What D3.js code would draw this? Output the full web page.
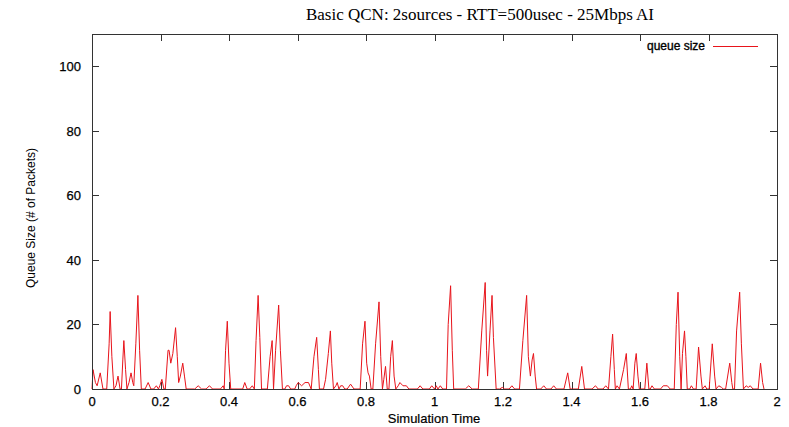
<!DOCTYPE html>
<html><head><meta charset="utf-8">
<script src="https://cdn.jsdelivr.net/npm/d3@7"></script>
<style>body{margin:0;background:#fff}svg{display:block}</style>
</head><body><svg id="c" width="789" height="427"></svg>
<script>
const chartTitle = "Basic QCN: 2sources - RTT=500usec - 25Mbps AI";
const xLabel = "Simulation Time";
const yLabel = "Queue Size (# of Packets)";
const seriesName = "queue size";
const xTicks = [0, 0.2, 0.4, 0.6, 0.8, 1, 1.2, 1.4, 1.6, 1.8, 2];
const xTickLabels = ["0", "0.2", "0.4", "0.6", "0.8", "1", "1.2", "1.4", "1.6", "1.8", "2"];
const yTicks = [0, 20, 40, 60, 80, 100];
const yTickLabels = ["0", "20", "40", "60", "80", "100"];
const times = [
0.000,0.003,0.010,0.015,0.024,0.032,0.043,0.050,0.053,0.058,0.064,0.070,0.076,0.082,0.086,0.090,0.093,0.098,0.102,0.108,
0.114,0.119,0.122,0.128,0.134,0.139,0.144,0.155,0.164,0.172,0.180,0.188,0.194,0.198,0.204,0.210,0.214,0.222,0.225,0.230,
0.236,0.244,0.249,0.253,0.258,0.265,0.270,0.275,0.300,0.310,0.320,0.333,0.343,0.352,0.375,0.383,0.386,0.390,0.395,0.400,
0.405,0.440,0.446,0.453,0.460,0.468,0.474,0.479,0.485,0.490,0.495,0.512,0.520,0.526,0.530,0.536,0.545,0.550,0.556,0.563,
0.568,0.574,0.580,0.592,0.596,0.602,0.612,0.622,0.632,0.640,0.648,0.656,0.661,0.664,0.676,0.682,0.690,0.696,0.700,0.705,
0.712,0.716,0.721,0.726,0.732,0.738,0.745,0.755,0.765,0.783,0.790,0.797,0.802,0.806,0.810,0.815,0.820,0.828,0.838,0.843,
0.848,0.852,0.857,0.862,0.867,0.872,0.877,0.882,0.887,0.894,0.899,0.908,0.918,0.925,0.950,0.958,0.966,0.985,0.992,1.000,
1.005,1.010,1.017,1.024,1.035,1.040,1.047,1.052,1.056,1.090,1.100,1.110,1.128,1.138,1.148,1.152,1.155,1.162,1.168,1.172,
1.180,1.190,1.198,1.205,1.218,1.226,1.234,1.248,1.258,1.269,1.274,1.280,1.285,1.289,1.294,1.298,1.310,1.319,1.327,1.340,
1.348,1.356,1.378,1.389,1.396,1.420,1.430,1.438,1.460,1.470,1.478,1.492,1.500,1.508,1.515,1.520,1.525,1.528,1.533,1.540,
1.552,1.560,1.566,1.572,1.576,1.580,1.585,1.589,1.594,1.598,1.614,1.620,1.626,1.630,1.635,1.642,1.660,1.668,1.680,1.688,
1.700,1.706,1.711,1.716,1.720,1.724,1.730,1.734,1.738,1.745,1.750,1.756,1.764,1.771,1.778,1.782,1.790,1.795,1.802,1.811,
1.818,1.822,1.830,1.838,1.843,1.850,1.862,1.868,1.871,1.876,1.882,1.891,1.896,1.902,1.910,1.916,1.922,1.930,1.945,1.952,
1.958,1.962];
const values = [
0,6,2,1,5,0,0,14,24,10,0,1,4,0,0,9,15,6,0,2,
5,2,1,14,29,12,0,0,2,0,0,1,0,1,3,0,0,12,12,8,
11,19,10,2,4,8,4,0,0,1,0,0,1,0,0,1,0,12,21,8,
0,0,2,0,0,1,0,15,29,16,0,0,10,15,0,12,26,12,0,0,
1,1,0,0,1,2,1,2,2,0,10,16,6,0,0,3,11,18,8,0,
1,2,0,1,1,0,0,1.5,0,0,14,21,8,5,4,0,0,14,27,10,
0,3,7,0,0,10,15,4,0,1,2,1,1,0,0,1,0,0,1,0,
1,0,1,0,0,20,32,12,0,0,1,0,0,18,33,12,4,18,29,16,
0,0,0.5,0,0,1,0,0,15,29,10,4,9,11,4,0,0,1,0,0,
1,0,0,5,0,0,7,0,0,1,0,0,1,0,10,17,6,0,1,0,
6,11,0,0,1,0,8,11,4,0,0,8,0,0,1,0,0,1,1,0,
0,20,30,10,0,11,18,10,0,0,1,0,0,13,4,0,1,0,0,14,
4,0,1,0.5,0,0,8,2,0,0,18,30,14,0,1,0.5,1,0,0,8,
2,0];

const svg = d3.select("#c");
const W = 789, H = 427;
const L = 92, R = 777, T = 34, B = 389;
const x = d3.scaleLinear().domain([0, 2]).range([L, R]);
const y = d3.scaleLinear().domain([0, 110]).range([B, T]);
const frameColor = "#333";
const sans = "'Liberation Sans', Arial, sans-serif";

svg.append("rect").attr("width", W).attr("height", H).attr("fill", "#fff");

// ticks (inward, mirrored)
const tl = 7;
const g = svg.append("g").attr("stroke", frameColor).attr("stroke-width", 1);
xTicks.forEach(t => {
  const px = Math.round(x(t)) + 0.5;
  g.append("line").attr("x1", px).attr("x2", px).attr("y1", B).attr("y2", B - tl);
  g.append("line").attr("x1", px).attr("x2", px).attr("y1", T).attr("y2", T + tl);
});
yTicks.forEach(v => {
  const py = Math.round(y(v)) + 0.5;
  g.append("line").attr("x1", L).attr("x2", L + tl).attr("y1", py).attr("y2", py);
  g.append("line").attr("x1", R).attr("x2", R - tl).attr("y1", py).attr("y2", py);
});

// data line
const pts = times.map((t, i) => [t, values[i]]);
svg.append("path")
  .datum(pts)
  .attr("fill", "none")
  .attr("stroke", "#e8141b")
  .attr("stroke-width", 1)
  .attr("d", d3.line().x(d => x(d[0])).y(d => y(d[1])));

// frame
svg.append("rect")
  .attr("x", L + 0.5).attr("y", T + 0.5)
  .attr("width", R - L).attr("height", B - T)
  .attr("fill", "none").attr("stroke", frameColor).attr("stroke-width", 1);

// tick labels
svg.append("g").selectAll("text").data(xTicks).join("text")
  .attr("x", d => x(d)).attr("y", 406)
  .attr("text-anchor", "middle")
  .attr("font-family", sans).attr("font-size", 13)
  .attr("stroke", "#000").attr("stroke-width", 0.25)
  .text((d, i) => xTickLabels[i]);
svg.append("g").selectAll("text").data(yTicks).join("text")
  .attr("x", 81).attr("y", d => y(d) + 5)
  .attr("text-anchor", "end")
  .attr("font-family", sans).attr("font-size", 13)
  .attr("stroke", "#000").attr("stroke-width", 0.25)
  .text((d, i) => yTickLabels[i]);

// axis titles
svg.append("text").attr("x", 434).attr("y", 423)
  .attr("text-anchor", "middle").attr("font-family", sans).attr("font-size", 13)
  .attr("stroke", "#000").attr("stroke-width", 0.2)
  .text(xLabel);
svg.append("text").attr("transform", "translate(35,218) rotate(-90)")
  .attr("text-anchor", "middle").attr("font-family", sans).attr("font-size", 12)
  .text(yLabel);

// title
svg.append("text").attr("x", 480).attr("y", 20)
  .attr("text-anchor", "middle").attr("font-family", "'Liberation Serif', 'Times New Roman', serif")
  .attr("font-size", 17)
  .text(chartTitle);

// legend
svg.append("text").attr("x", 705).attr("y", 50)
  .attr("text-anchor", "end").attr("font-family", sans).attr("font-size", 12)
  .attr("stroke", "#000").attr("stroke-width", 0.35)
  .text(seriesName);
svg.append("line").attr("x1", 713).attr("x2", 758).attr("y1", 46.5).attr("y2", 46.5)
  .attr("stroke", "#e8141b").attr("stroke-width", 1);
</script>
</body></html>
